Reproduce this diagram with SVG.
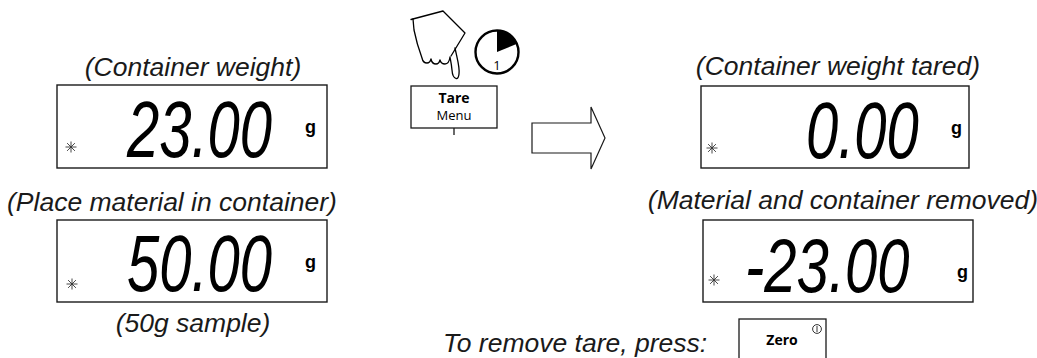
<svg xmlns="http://www.w3.org/2000/svg" xmlns:xlink="http://www.w3.org/1999/xlink" width="1037" height="358" viewBox="0 0 1037 358">
  <style>
    .cap { font-family: "Liberation Sans", Arial, sans-serif; font-style: italic; font-size: 26.5px; fill: #1a1a1a; text-anchor: middle; }
    .lcd { font-family: "Liberation Sans", Arial, sans-serif; font-style: italic; font-size: 58px; fill: #000; }
    .unit { font-family: "Liberation Sans", Arial, sans-serif; font-weight: bold; font-size: 18px; fill: #000; }
    .box { fill: #fff; stroke: #1a1a1a; stroke-width: 1.4; }
    .key { fill: #fff; stroke: #1a1a1a; stroke-width: 1.3; }
    .keyb { font-family: "Open Sans", "Noto Sans", sans-serif; font-weight: bold; font-size: 14px; fill: #000; text-anchor: middle; }
    .keyr { font-family: "Open Sans", "Noto Sans", sans-serif; font-size: 13px; fill: #000; text-anchor: middle; }
    .ast line { stroke: #333; stroke-width: 0.9; }
  </style>
  <defs>
    <g id="ast" class="ast">
      <line x1="-5.5" y1="0" x2="5.5" y2="0"/>
      <line x1="0" y1="-5.5" x2="0" y2="5.5"/>
      <line x1="-3.9" y1="-3.9" x2="3.9" y2="3.9"/>
      <line x1="-3.9" y1="3.9" x2="3.9" y2="-3.9"/>
    </g>
  </defs>
  <rect width="1037" height="358" fill="#fff"/>

  <g id="display-container-weight">
    <text class="cap" x="193" y="76">(Container weight)</text>
    <rect class="box" x="57" y="85" width="270" height="83"/>
    <use xlink:href="#ast" x="71" y="147"/>
    <text class="lcd" transform="translate(127,157) scale(1,1.38)">23.00</text>
    <text class="unit" x="305" y="133">g</text>
  </g>

  <g id="display-material">
    <text class="cap" x="172" y="211">(Place material in container)</text>
    <rect class="box" x="57" y="220" width="270" height="82"/>
    <use xlink:href="#ast" x="72" y="284"/>
    <text class="lcd" transform="translate(127,291) scale(1,1.38)">50.00</text>
    <text class="unit" x="305" y="268">g</text>
    <text class="cap" x="193" y="332">(50g sample)</text>
  </g>

  <g id="display-tared">
    <text class="cap" x="838" y="75">(Container weight tared)</text>
    <rect class="box" x="701" y="86" width="268" height="82"/>
    <use xlink:href="#ast" x="712" y="148"/>
    <text class="lcd" transform="translate(806,158) scale(1,1.38)">0.00</text>
    <text class="unit" x="951" y="134">g</text>
  </g>

  <g id="display-removed">
    <text class="cap" x="843" y="209">(Material and container removed)</text>
    <rect class="box" x="703" y="220" width="270" height="82"/>
    <use xlink:href="#ast" x="714" y="280"/>
    <text class="lcd" transform="translate(745,292) scale(1,1.3)" font-size="61">-23.00</text>
    <text class="unit" x="957" y="278">g</text>
  </g>

  <g id="hand-icon" fill="none" stroke="#000" stroke-width="1.3" stroke-linejoin="round" stroke-linecap="round">
    <path d="M411,19.5 L443,11 L465,33 L451,56"/>
    <path d="M455,48 C457,58 460,67 459,74 Q458.5,79 456,78.5 Q452.5,77.5 452,70 C451.5,64 450.5,60 450,57 Q449,64 445,64 Q441,64 440,60 Q439,64 436,64 Q432,64 431,59 Q430,63 427,63 Q423,63 422,58 C419,50 416,40 414,30 L413,19"/>
  </g>

  <g id="timer-icon">
    <circle cx="497" cy="52" r="21.5" fill="#fff" stroke="#000" stroke-width="2.4"/>
    <path d="M497,52 L497,31 A21,21 0 0 1 516.5,44.1 Z" fill="#000"/>
    <text class="keyr" x="497" y="70" font-size="14">1</text>
  </g>

  <g id="tare-button">
    <rect class="key" x="411" y="86" width="86" height="42"/>
    <line x1="454" y1="128" x2="454" y2="135" stroke="#1a1a1a" stroke-width="1.3"/>
    <text class="keyb" x="454" y="103">Tare</text>
    <text class="keyr" x="454" y="120">Menu</text>
  </g>

  <g id="connectors">
    <polygon points="532,123 591,123 591,107 605,138 591,169 591,153 532,153" fill="#fff" stroke="#1a1a1a" stroke-width="1.2"/>
  </g>

  <g id="remove-tare">
    <text class="cap" x="443" y="352" style="text-anchor:start">To remove tare, press:</text>
  </g>

  <g id="zero-button">
    <rect class="key" x="739" y="319" width="87" height="50"/>
    <text class="keyb" x="782" y="345" font-size="13">Zero</text>
    <circle cx="817" cy="329" r="4.4" fill="none" stroke="#000" stroke-width="0.8"/>
    <line x1="817" y1="326" x2="817" y2="332" stroke="#000" stroke-width="0.8"/>
  </g>
</svg>
